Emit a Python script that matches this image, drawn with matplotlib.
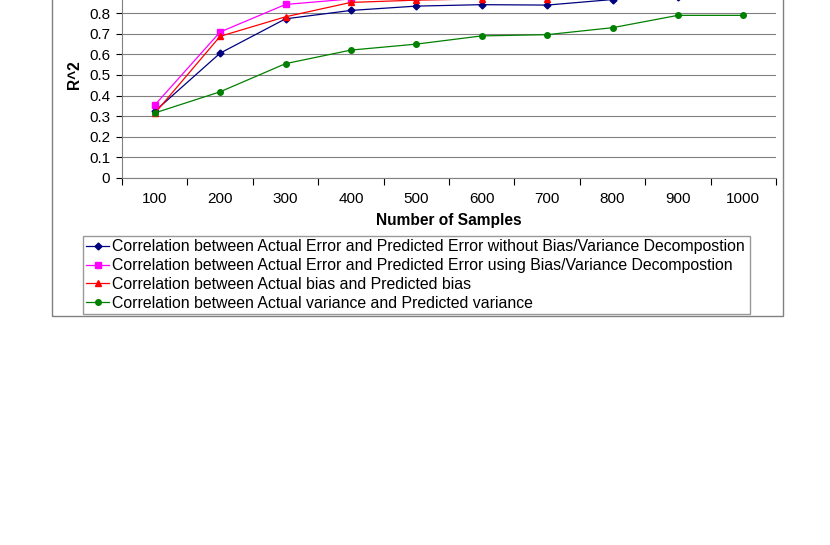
import matplotlib.pyplot as plt
from matplotlib.patches import Rectangle
from matplotlib.ticker import FuncFormatter

plt.rcParams['font.family'] = ['Liberation Sans', 'DejaVu Sans']

# data (points above the crop are estimates)
samples = ['100', '200', '300', '400', '500', '600', '700', '800', '900', '1000']
err_without = [0.323, 0.606, 0.773, 0.814, 0.835, 0.842, 0.840, 0.867, 0.88, 0.89]
err_using = [0.353, 0.709, 0.843, 0.87, 0.88, 0.89, 0.90, 0.91, 0.92, 0.92]
bias = [0.313, 0.688, 0.783, 0.853, 0.864, 0.87, 0.87, 0.89, 0.90, 0.91]
variance = [0.315, 0.418, 0.555, 0.621, 0.65, 0.69, 0.696, 0.73, 0.79, 0.79]
yticks = [0, 0.1, 0.2, 0.3, 0.4, 0.5, 0.6, 0.7, 0.8]

labels = [
    'Correlation between Actual Error and Predicted Error without Bias/Variance Decompostion',
    'Correlation between Actual Error and Predicted Error using Bias/Variance Decompostion',
    'Correlation between Actual bias and Predicted bias',
    'Correlation between Actual variance and Predicted variance',
]

fig = plt.figure(figsize=(8.3, 5.45), dpi=100)
W, H = 830, 545

# outer chart border (top is cropped off)
fig.patches.append(Rectangle((52 / W, (H - 316) / H), (783 - 52) / W, 1.0,
                             transform=fig.transFigure, fill=False,
                             edgecolor='#808080', linewidth=1))

ax = fig.add_axes([122 / W, (H - 177.7) / H, (776 - 122) / W, 205.5 / H])
x = list(range(len(samples)))

ax.plot(x, err_without, color='#000080', marker='D', markersize=3.5, linewidth=0.9, label=labels[0])
ax.plot(x, err_using, color='#FF00FF', marker='s', markersize=5, linewidth=0.9, label=labels[1])
ax.plot(x, bias, color='#FF0000', marker='^', markersize=5, linewidth=0.9, label=labels[2])
ax.plot(x, variance, color='#008000', marker='o', markersize=4, linewidth=0.9, label=labels[3])

ax.set_xlim(-0.5, 9.5)
ax.set_ylim(0, 1.0)
ax.set_yticks(yticks)
ax.yaxis.set_major_formatter(FuncFormatter(lambda v, p: '0' if v == 0 else f'{v:.1f}'))
ax.set_xticks(x)
ax.set_xticklabels(samples)
ax.set_xticks([i - 0.5 for i in range(11)], minor=True)
ax.tick_params(axis='x', which='major', length=0, pad=10, labelsize=11)
ax.tick_params(axis='x', which='minor', length=5, direction='out', width=0.8)
ax.tick_params(axis='y', length=4.5, direction='out', labelsize=11, width=0.8, pad=4)

ax.grid(axis='y', color='#808080', linewidth=0.8)
ax.axhline(0.9, color='#808080', linewidth=0.8)
ax.set_axisbelow(True)
for s in ['top', 'right']:
    ax.spines[s].set_visible(False)
for s in ['left', 'bottom']:
    ax.spines[s].set_color('#808080')
    ax.spines[s].set_linewidth(0.8)

ax.set_xlabel('Number of Samples', fontweight='bold', fontsize=11.2, labelpad=5)
ax.set_ylabel('R^2', fontweight='bold', fontsize=11.2, labelpad=5)

fig.legend(loc='lower left', bbox_to_anchor=(83 / W, (H - 314) / H, (750 - 83) / W, 74 / H),
           mode='expand', fontsize=11.4, frameon=True, fancybox=False, edgecolor='#808080',
           handlelength=1.45, handletextpad=0.2, borderpad=0.2, labelspacing=0.24,
           borderaxespad=0)

fig.savefig('out.png', dpi=100)
